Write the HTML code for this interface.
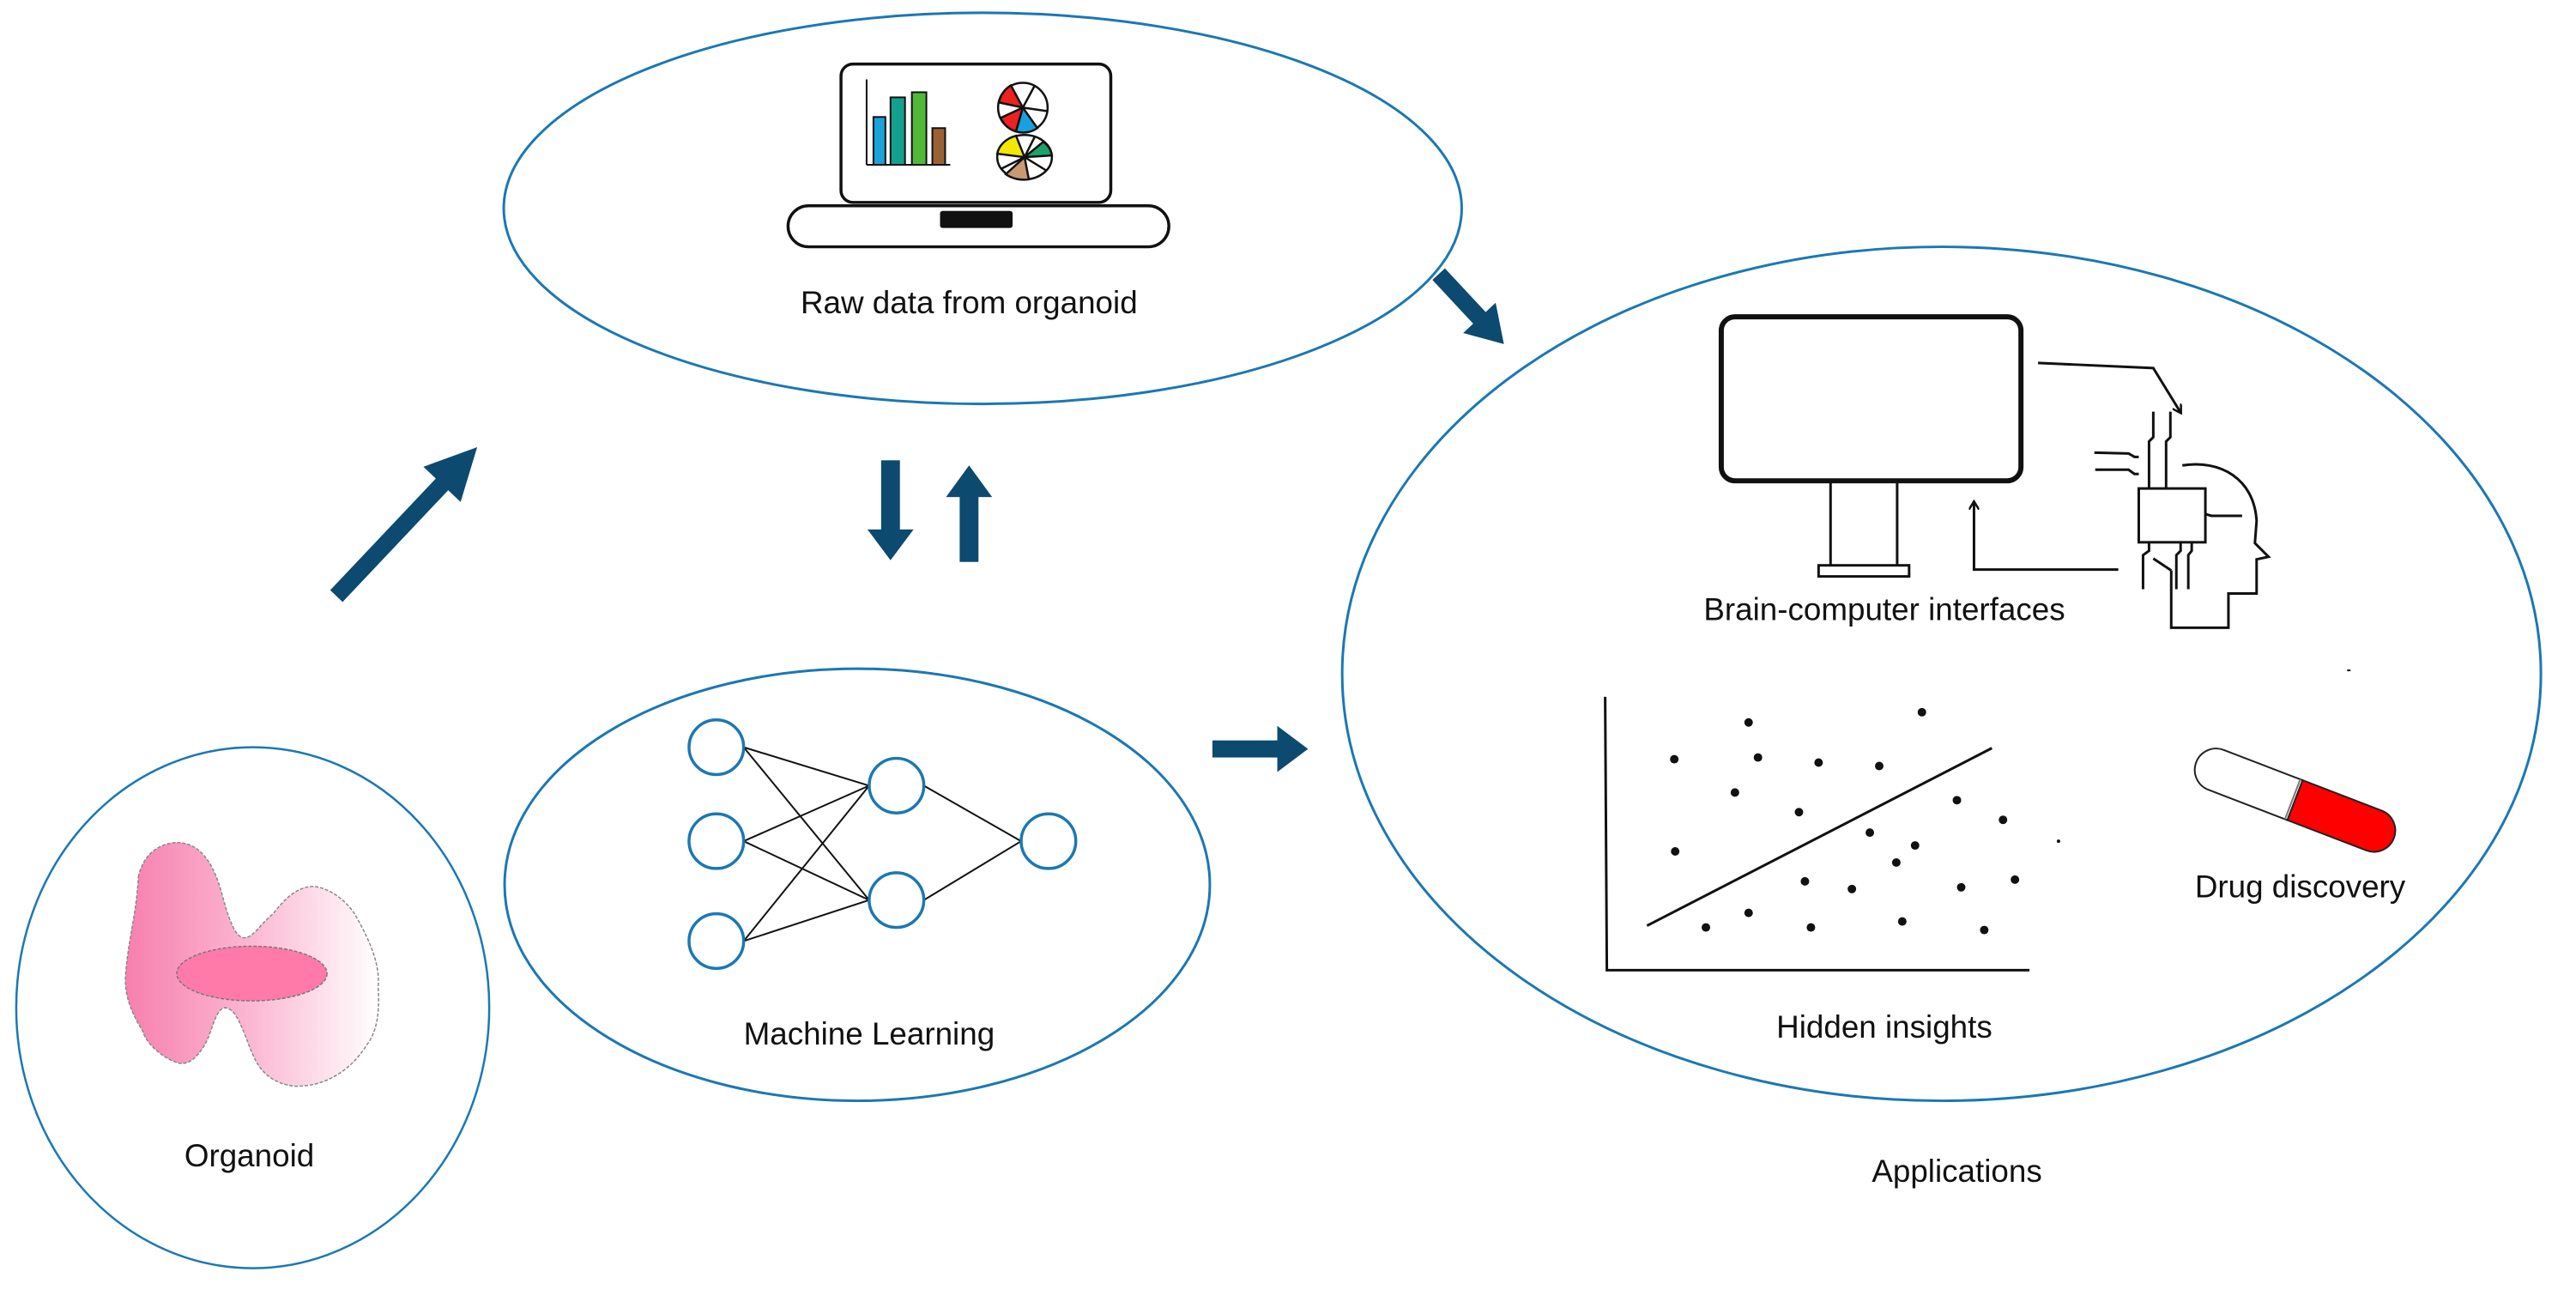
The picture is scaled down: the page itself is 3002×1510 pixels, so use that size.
<!DOCTYPE html>
<html><head><meta charset="utf-8"><style>
html,body{margin:0;padding:0;background:#fff;}
svg{display:block;}
text{font-family:"Liberation Sans",sans-serif;fill:#111;}
</style></head><body>
<svg width="3002" height="1510" viewBox="0 0 3002 1510" xmlns="http://www.w3.org/2000/svg">
<defs>
<linearGradient id="og" x1="0" x2="1" y1="0" y2="0">
<stop offset="0" stop-color="#f77fae"/><stop offset="0.5" stop-color="#fbb8d2"/><stop offset="1" stop-color="#ffffff"/>
</linearGradient>
<marker id="ah" markerWidth="12" markerHeight="12" refX="9" refY="6" orient="auto" markerUnits="userSpaceOnUse">
<path d="M0,0 L10,6 L0,12" fill="none" stroke="#111" stroke-width="2.5"/>
</marker>
</defs>
<g transform="scale(0.995)">
<!-- ellipses -->
<g fill="none" stroke="#1a78b4" stroke-width="3">
<ellipse cx="1151" cy="244" rx="561" ry="229"/>
<ellipse cx="1004" cy="1036" rx="413" ry="253"/>
<ellipse cx="296" cy="1180" rx="277" ry="305" stroke-width="2.5"/>
<ellipse cx="2274" cy="789" rx="702" ry="500"/>
</g>

<!-- big arrows -->
<g fill="#0c4a70">
<g transform="translate(394,698) rotate(-46.6)">
<rect x="0" y="-10" width="196" height="20"/>
<polygon points="180,-30 240,0 180,30"/>
</g>
<rect x="1032" y="539" width="22" height="85"/>
<polygon points="1016,620 1070,620 1043,656"/>
<rect x="1124" y="578" width="22" height="80"/>
<polygon points="1108,582 1162,582 1135,545"/>
<rect x="1420" y="867" width="80" height="20"/>
<polygon points="1496,850 1532,877 1496,904"/>
<g transform="translate(1685,321) rotate(47)">
<rect x="0" y="-10" width="80" height="20"/>
<polygon points="70,-26 112,0 70,26"/>
</g>
</g>

<!-- laptop -->
<rect x="985" y="75" width="316" height="162" rx="14" fill="#fff" stroke="#111" stroke-width="3.5"/>
<rect x="923" y="241" width="446" height="48" rx="24" fill="#fff" stroke="#111" stroke-width="3.5"/>
<rect x="1101" y="247" width="85" height="20" rx="3" fill="#111"/>
<g stroke="#111" stroke-width="2">
<line x1="1015" y1="93" x2="1015" y2="193"/>
<line x1="1015" y1="193" x2="1113" y2="193"/>
<rect x="1023" y="137" width="14" height="56" fill="#1aa3d8"/>
<rect x="1043" y="114" width="17" height="79" fill="#14a08e"/>
<rect x="1068" y="108" width="17" height="85" fill="#52b83a"/>
<rect x="1092" y="150" width="15" height="43" fill="#9a6233"/>
</g>
<g stroke="#111" stroke-width="2.5">
<circle cx="1198" cy="126" r="29" fill="#fff"/>
<path d="M1198,126 L1170,120 A29,29 0 0 1 1184,100 Z" fill="#ee2020"/>
<path d="M1198,126 L1190,154 A29,29 0 0 1 1172,138 Z" fill="#ee2020"/>
<path d="M1198,126 L1215,150 A29,29 0 0 1 1190,154 Z" fill="#1ba0df"/>
<line x1="1198" y1="126" x2="1212" y2="100"/>
<line x1="1198" y1="126" x2="1226" y2="130"/>
<ellipse cx="1200" cy="184" rx="32" ry="26" fill="#fff"/>
<path d="M1200,184 L1168,180 A32,26 0 0 1 1190,159 Z" fill="#f5e800"/>
<path d="M1200,184 L1232,182 A32,26 0 0 0 1222,166 Z" fill="#1aa36a"/>
<path d="M1200,184 L1205,210 A32,26 0 0 1 1178,204 Z" fill="#c99a72"/>
<line x1="1200" y1="184" x2="1212" y2="160"/>
<line x1="1200" y1="184" x2="1172" y2="198"/>
<line x1="1200" y1="184" x2="1226" y2="200"/>
</g>
<text x="1135" y="367" font-size="37" text-anchor="middle">Raw data from organoid</text>

<!-- neural net -->
<g stroke="#111" stroke-width="2">
<line x1="871" y1="875" x2="1018" y2="920"/>
<line x1="871" y1="875" x2="1018" y2="1054"/>
<line x1="871" y1="985" x2="1018" y2="920"/>
<line x1="871" y1="985" x2="1018" y2="1054"/>
<line x1="871" y1="1102" x2="1018" y2="920"/>
<line x1="871" y1="1102" x2="1018" y2="1054"/>
<line x1="1082" y1="920" x2="1196" y2="985"/>
<line x1="1082" y1="1054" x2="1196" y2="985"/>
</g>
<g fill="#fff" stroke="#1a78b4" stroke-width="3.5">
<circle cx="839" cy="875" r="32"/><circle cx="839" cy="985" r="32"/><circle cx="839" cy="1102" r="32"/>
<circle cx="1050" cy="920" r="32"/><circle cx="1050" cy="1054" r="32"/>
<circle cx="1228" cy="985" r="32"/>
</g>
<text x="1018" y="1223" font-size="37" text-anchor="middle">Machine Learning</text>

<!-- organoid -->
<path d="M162,1027 C170,990 200,985 213,987 C235,990 250,1010 260,1047 C270,1085 278,1100 288,1098 C298,1096 305,1082 320,1070 C335,1050 350,1038 367,1038 C390,1040 410,1060 417,1073 C435,1105 445,1130 443,1157 C445,1190 440,1210 430,1223 C410,1255 380,1272 347,1272 C320,1270 305,1255 297,1237 C285,1210 278,1180 263,1180 C252,1182 248,1210 240,1223 C230,1240 220,1247 210,1245 C190,1240 170,1220 167,1207 C150,1180 146,1160 147,1143 C150,1100 160,1070 162,1027 Z" fill="url(#og)" stroke="#888" stroke-width="1.5" stroke-dasharray="4,2"/>
<ellipse cx="295" cy="1140" rx="88" ry="32" fill="#ff7aa8" stroke="#777" stroke-width="1.5" stroke-dasharray="4,2"/>
<text x="292" y="1366" font-size="37" text-anchor="middle">Organoid</text>

<!-- monitor -->
<rect x="2016" y="371" width="351" height="192" rx="16" fill="#fff" stroke="#111" stroke-width="6"/>
<g stroke="#111" stroke-width="3" fill="none">
<line x1="2144" y1="563" x2="2144" y2="662"/>
<line x1="2222" y1="563" x2="2222" y2="662"/>
<rect x="2130" y="662" width="106" height="13" fill="#fff"/>
<polyline points="2387,425 2522,431 2554,483" marker-end="url(#ah)"/>
<polyline points="2481,667 2312,667 2312,588" marker-end="url(#ah)"/>
<rect x="2505" y="572" width="78" height="63" fill="#fff"/>
<polyline points="2522,482 2522,512 2517,517 2517,572"/>
<polyline points="2542,482 2542,512 2537,517 2537,572"/>
<polyline points="2453,530 2493,531 2500,535 2505,535"/>
<polyline points="2454,550 2493,550 2500,555 2505,555"/>
<polyline points="2583,602 2590,604 2626,604"/>
<polyline points="2517,635 2517,645 2510,650 2510,690"/>
<polyline points="2554,635 2554,645 2549,650 2549,690"/>
<polyline points="2567,635 2567,645 2563,650 2563,690"/>
<line x1="2522" y1="654" x2="2543" y2="668"/>
<path d="M2556,545 C2600,538 2640,560 2643,610 L2641,636 L2657,652 L2643,655 L2643,695 L2610,695 L2610,735 L2543,735 L2543,668"/>
</g>
<text x="2207" y="726" font-size="37" text-anchor="middle">Brain-computer interfaces</text>

<!-- scatter -->
<g stroke="#111" stroke-width="3" fill="none">
<polyline points="1880,816 1882,1136 2377,1136"/>
<line x1="1929" y1="1084" x2="2333" y2="876"/>
</g>
<g fill="#111">
<circle cx="2048" cy="846" r="5"/><circle cx="2251" cy="834" r="5"/><circle cx="1961" cy="889" r="5"/>
<circle cx="2059" cy="887" r="5"/><circle cx="2130" cy="893" r="5"/><circle cx="2201" cy="897" r="5"/>
<circle cx="2032" cy="928" r="5"/><circle cx="2107" cy="951" r="5"/><circle cx="2292" cy="937" r="5"/>
<circle cx="2346" cy="960" r="5"/><circle cx="1962" cy="997" r="5"/><circle cx="2190" cy="975" r="5"/>
<circle cx="2243" cy="990" r="5"/><circle cx="2221" cy="1010" r="5"/><circle cx="2114" cy="1032" r="5"/>
<circle cx="2169" cy="1041" r="5"/><circle cx="2297" cy="1039" r="5"/><circle cx="2360" cy="1030" r="5"/>
<circle cx="1998" cy="1086" r="5"/><circle cx="2048" cy="1069" r="5"/><circle cx="2121" cy="1086" r="5"/>
<circle cx="2228" cy="1079" r="5"/><circle cx="2324" cy="1089" r="5"/><circle cx="2411" cy="985" r="2"/>
<rect x="2749" y="784" width="4" height="2"/>
</g>
<text x="2207" y="1215" font-size="37" text-anchor="middle">Hidden insights</text>

<g transform="translate(2688,937) rotate(21)">
<path d="M0,-25 L-99,-25 A25,25 0 0 0 -99,25 L0,25 Z" fill="#fff" stroke="#222" stroke-width="2"/>
<path d="M0,-25 L99,-25 A25,25 0 0 1 99,25 L0,25 Z" fill="#ff0000" stroke="#222" stroke-width="2"/>
<line x1="-3" y1="-25" x2="-3" y2="25" stroke="#777" stroke-width="2"/>
</g>
<text x="2694" y="1051" font-size="37" text-anchor="middle">Drug discovery</text>

<text x="2292" y="1384" font-size="37" text-anchor="middle">Applications</text>
</g>
</svg>
</body></html>
